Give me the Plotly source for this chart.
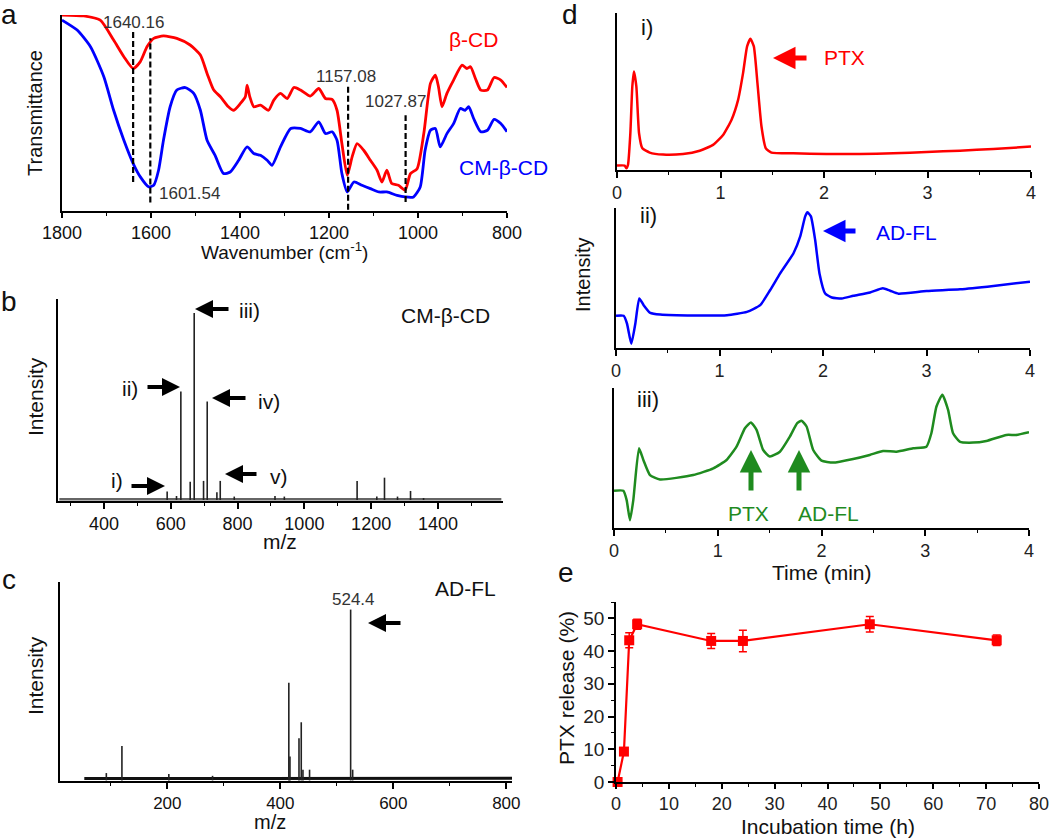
import plotly.graph_objects as go

W, H = 1050, 838

# ---------------- data ----------------
# (a) FTIR, transmittance in arbitrary units
ftir_wn_bcd = [1800, 1751, 1714, 1684, 1661, 1640, 1624, 1609, 1594, 1572, 1542, 1512, 1489, 1474, 1459,
               1444, 1426, 1414, 1399, 1388, 1384, 1378, 1369, 1354, 1336, 1324, 1309, 1294, 1279, 1264,
               1242, 1223, 1208, 1193, 1182, 1171, 1159, 1148, 1137, 1122, 1107, 1092, 1081, 1070, 1059,
               1044, 1029, 1017, 1002, 987, 972, 961, 954, 946, 935, 920, 901, 890, 882, 871, 859, 844,
               829, 814, 800]
ftir_t_bcd = [100.0, 99.5, 97.4, 87.2, 78.7, 72.7, 76.2, 83.8, 88.1, 89.3, 88.1, 84.7, 79.6, 70.2, 61.7,
              58.3, 53.2, 51.4, 54.9, 58.3, 64.2, 58.3, 53.2, 54.0, 51.4, 56.6, 60.0, 57.4, 63.0, 61.7,
              58.6, 62.5, 57.4, 56.9, 51.4, 34.4, 18.2, 27.6, 34.4, 31.0, 25.9, 20.8, 14.8, 20.8, 14.0,
              13.1, 10.6, 19.1, 21.6, 39.5, 65.1, 69.3, 63.4, 53.2, 60.0, 66.8, 74.4, 72.7, 73.6, 67.6,
              61.7, 61.7, 68.1, 66.8, 63.0]
ftir_wn_cm = [1800, 1766, 1736, 1706, 1684, 1661, 1640, 1624, 1605, 1594, 1583, 1572, 1557, 1542, 1523,
              1504, 1489, 1474, 1456, 1437, 1422, 1403, 1384, 1369, 1354, 1339, 1328, 1309, 1286, 1264,
              1242, 1223, 1208, 1193, 1182, 1171, 1159, 1144, 1126, 1107, 1088, 1070, 1047, 1029, 1010,
              995, 984, 972, 961, 950, 935, 920, 905, 894, 886, 875, 859, 844, 829, 814, 800]
ftir_t_cm = [97.4, 92.3, 83.8, 68.5, 51.4, 36.1, 24.2, 17.4, 12.3, 13.1, 20.8, 36.1, 53.2, 61.7, 63.0,
             60.0, 51.4, 36.1, 28.4, 19.1, 19.9, 25.9, 32.7, 29.3, 28.4, 25.9, 23.3, 32.7, 42.1, 42.1,
             40.4, 45.5, 39.5, 40.4, 36.1, 19.1, 9.7, 14.8, 13.1, 11.4, 9.7, 9.7, 8.0, 7.2, 7.2,
             12.3, 31.0, 41.2, 42.1, 32.7, 39.5, 44.6, 52.3, 51.4, 53.2, 47.2, 40.4, 41.2, 46.7, 44.6, 40.4]
mark_wn = [1640.16, 1601.54, 1157.08, 1027.87]
mark_top = [92.3, 88.1, 63.7, 48.9]
mark_bot = [14.8, 4.3, 0.7, 4.6]
mark_labels = ["1640.16", "1601.54", "1157.08", "1027.87"]

# (b) MS of CM-beta-CD
ms_cm_mz = [589, 617, 630, 658, 670, 698, 709, 738, 748, 790, 912, 940, 1158, 1217, 1240, 1279, 1318, 1357]
ms_cm_int = [4.2, 2.0, 54.0, 9.1, 93.0, 9.5, 49.0, 3.8, 9.5, 1.7, 2.0, 1.7, 9.5, 1.7, 11.1, 1.7, 4.5, 1.0]
ms_cm_base_mz = [266, 1590]
ms_cm_base_int = [0.4, 0.4]

# (c) MS of AD-FL
ms_ad_mz = [92, 119.6, 202.6, 280, 415, 417, 433, 437, 440, 451.7, 524.4, 528]
ms_ad_int = [3.7, 17.4, 3.2, 2.3, 49.2, 12.1, 21.3, 29.3, 5.4, 5.4, 86.1, 5.4]
ms_ad_base_mz = [53, 810]
ms_ad_base_int = [0.9, 1.1]

# (d) HPLC traces
hplc_ptx_t = [0.0, 0.074, 0.090, 0.106, 0.129, 0.148, 0.164, 0.187, 0.213, 0.245, 0.316, 0.445, 0.638,
              0.799, 0.928, 1.025, 1.106, 1.170, 1.218, 1.257, 1.289, 1.322, 1.357, 1.396, 1.438, 1.492,
              1.702, 2.024, 2.347, 2.669, 2.991, 3.313, 3.636, 4.0]
hplc_ptx_i = [2.8, 2.8, 1.1, 3.2, 23.4, 53.2, 62.8, 53.2, 23.4, 13.8, 11.1, 9.8, 10.2,
              12.3, 16.0, 22.3, 31.9, 44.7, 61.7, 78.7, 83.6, 78.7, 55.3, 27.7, 13.8, 11.1,
              10.6, 10.2, 10.2, 10.6, 11.5, 12.3, 13.4, 14.9]
hplc_ad_t = [0.0, 0.074, 0.106, 0.148, 0.187, 0.225, 0.267, 0.331, 0.428, 0.750, 1.072, 1.265, 1.393,
             1.490, 1.586, 1.715, 1.780, 1.828, 1.850, 1.883, 1.924, 1.966, 2.021, 2.085, 2.182, 2.294,
             2.455, 2.578, 2.648, 2.729, 3.002, 3.324, 3.646, 4.0]
hplc_ad_i = [23.0, 23.0, 17.5, 3.1, 17.5, 35.4, 30.6, 25.1, 23.9, 23.2, 23.4, 25.8, 30.6,
             41.4, 53.3, 67.7, 79.7, 94.0, 96.9, 94.0, 77.3, 53.3, 39.0, 36.1, 35.4, 37.3,
             39.7, 42.6, 40.9, 38.8, 40.7, 41.9, 44.3, 47.4]
hplc_mix_t = [0.0, 0.090, 0.122, 0.154, 0.186, 0.241, 0.283, 0.347, 0.443, 0.764, 0.957, 1.085, 1.181,
              1.262, 1.319, 1.374, 1.438, 1.502, 1.599, 1.695, 1.766, 1.807, 1.856, 1.920, 2.0, 2.112,
              2.305, 2.465, 2.594, 2.722, 2.883, 3.011, 3.059, 3.108, 3.165, 3.220, 3.268, 3.332, 3.461,
              3.589, 3.782, 3.878, 4.0]
hplc_mix_i = [26.6, 26.6, 19.9, 5.5, 19.9, 56.9, 48.6, 37.8, 34.7, 37.8, 42.6, 48.6, 58.1,
              71.3, 75.4, 70.1, 55.7, 51.0, 54.5, 65.3, 74.9, 76.6, 72.5, 55.7, 48.1, 46.7,
              49.3, 52.2, 55.0, 54.5, 56.9, 58.1, 67.7, 86.8, 95.2, 84.4, 67.7, 61.7, 61.0,
              62.2, 66.5, 66.5, 68.4]

# (e) PTX release
rel_time = [0.3, 1.5, 2.5, 4, 18, 24, 48, 72]
rel_pct = [0.0, 9.3, 43.3, 48.2, 43.1, 43.1, 48.2, 43.3]
rel_err = [0.0, 0.6, 2.3, 1.5, 2.3, 3.3, 2.4, 1.6]

# ---------------- helpers ----------------
FONT = "Arial, Liberation Sans, sans-serif"
RED, BLUE, GREEN = "#ff0000", "#0000ff", "#1f8b1f"


def xd(x0, x1):
    return [x0 / W, x1 / W]


def yd(top, bot):
    return [1 - bot / H, 1 - top / H]


def P(x, y):
    return x / W, 1 - y / H


def sticks(xs, ys, base=0.0):
    xx, yy = [], []
    for a, b in zip(xs, ys):
        xx += [a, a, None]
        yy += [base, b, None]
    return xx, yy


def xaxis(dom, anchor, rng, dtick, mdtick, size=18, color="#111", ticklen=6):
    return dict(domain=dom, anchor=anchor, range=rng, showline=True, linecolor="black", linewidth=1.5,
                ticks="outside", ticklen=ticklen, tickwidth=1.5, tickcolor="black", dtick=dtick, tick0=0,
                minor=dict(dtick=mdtick, ticks="outside", ticklen=3, tickwidth=1.2, tickcolor="black"),
                showgrid=False, zeroline=False, automargin=False,
                tickfont=dict(size=size, color=color, family=FONT))


def yaxis(dom, anchor, rng):
    return dict(domain=dom, anchor=anchor, range=rng, showline=True, linecolor="black", linewidth=1.5,
                ticks="", showticklabels=False, showgrid=False, zeroline=False, automargin=False)


fig = go.Figure()

# (a)
fig.add_trace(go.Scatter(x=ftir_wn_bcd, y=ftir_t_bcd, mode="lines", line=dict(color=RED, width=2.8, shape="spline", smoothing=0.6),
                         xaxis="x", yaxis="y", showlegend=False))
fig.add_trace(go.Scatter(x=ftir_wn_cm, y=ftir_t_cm, mode="lines", line=dict(color=BLUE, width=2.8, shape="spline", smoothing=0.6),
                         xaxis="x", yaxis="y", showlegend=False))
mx, my = [], []
for w, t, b in zip(mark_wn, mark_top, mark_bot):
    mx += [w, w, None]
    my += [b, t, None]
fig.add_trace(go.Scatter(x=mx, y=my, mode="lines", line=dict(color="black", width=2.2, dash="6px,3px"),
                         xaxis="x", yaxis="y", showlegend=False))

# (b)
fig.add_trace(go.Scatter(x=ms_cm_base_mz, y=ms_cm_base_int, mode="lines", line=dict(color="#666", width=2.5),
                         xaxis="x2", yaxis="y2", showlegend=False))
sx, sy = sticks(ms_cm_mz, ms_cm_int)
fig.add_trace(go.Scatter(x=sx, y=sy, mode="lines", line=dict(color="#222", width=1.6),
                         xaxis="x2", yaxis="y2", showlegend=False))

# (c)
fig.add_trace(go.Scatter(x=ms_ad_base_mz, y=ms_ad_base_int, mode="lines", line=dict(color="#111", width=3),
                         xaxis="x3", yaxis="y3", showlegend=False))
sx, sy = sticks(ms_ad_mz, ms_ad_int)
fig.add_trace(go.Scatter(x=sx, y=sy, mode="lines", line=dict(color="#222", width=1.6),
                         xaxis="x3", yaxis="y3", showlegend=False))

# (d)
fig.add_trace(go.Scatter(x=hplc_ptx_t, y=hplc_ptx_i, mode="lines", line=dict(color=RED, width=2.5, shape="spline", smoothing=0.5),
                         xaxis="x4", yaxis="y4", showlegend=False))
fig.add_trace(go.Scatter(x=hplc_ad_t, y=hplc_ad_i, mode="lines", line=dict(color=BLUE, width=2.5, shape="spline", smoothing=0.5),
                         xaxis="x5", yaxis="y5", showlegend=False))
fig.add_trace(go.Scatter(x=hplc_mix_t, y=hplc_mix_i, mode="lines", line=dict(color=GREEN, width=2.5, shape="spline", smoothing=0.5),
                         xaxis="x6", yaxis="y6", showlegend=False))

# (e)
fig.add_trace(go.Scatter(x=rel_time, y=rel_pct, mode="lines+markers",
                         line=dict(color=RED, width=2.2),
                         marker=dict(symbol="square", size=10, color=RED),
                         error_y=dict(type="data", array=rel_err, color=RED, thickness=1.5, width=4),
                         cliponaxis=False, xaxis="x7", yaxis="y7", showlegend=False))

layout = dict(width=W, height=H, autosize=False,
              margin=dict(l=0, r=0, t=0, b=0, pad=0, autoexpand=False),
              paper_bgcolor="white", plot_bgcolor="white", showlegend=False,
              font=dict(family=FONT, color="#111"))

layout["xaxis"] = xaxis(xd(62, 507), "y", [1800, 800], 200, 100, size=18, ticklen=5)
layout["yaxis"] = yaxis(yd(15, 211), "x", [0, 100])
layout["xaxis2"] = xaxis(xd(58, 503), "y2", [262, 1595], 200, 100, size=18)
layout["yaxis2"] = yaxis(yd(299, 501), "x2", [-0.5, 100])
layout["xaxis3"] = xaxis(xd(60, 512), "y3", [10, 810], 200, 100, size=17)
layout["yaxis3"] = yaxis(yd(582, 781), "x3", [-0.3, 100])
layout["xaxis4"] = xaxis(xd(617, 1031), "y4", [0, 4], 1, 0.5, size=18, color="#222")
layout["yaxis4"] = yaxis(yd(13, 170), "x4", [0, 100])
layout["xaxis5"] = xaxis(xd(616, 1030), "y5", [0, 4], 1, 0.5, size=18, color="#222")
layout["yaxis5"] = yaxis(yd(208, 348), "x5", [0, 100])
layout["xaxis6"] = xaxis(xd(614, 1029), "y6", [0, 4], 1, 0.5, size=18, color="#222")
layout["yaxis6"] = yaxis(yd(388, 528), "x6", [0, 100])
layout["xaxis7"] = xaxis(xd(616, 1039), "y7", [0, 80], 10, 5, size=18, color="#222", ticklen=5)
ye = yaxis(yd(602, 782), "x7", [0, 55])
ye.update(ticks="outside", ticklen=6, tickwidth=1.5, tickcolor="black", showticklabels=True, dtick=10, tick0=0,
          minor=dict(dtick=5, ticks="outside", ticklen=3, tickwidth=1.2, tickcolor="black"),
          tickfont=dict(size=19, color="#222", family=FONT))
layout["yaxis7"] = ye

ann = []


def text(x, y, s, size=18, color="#111", angle=0, xanchor="center"):
    px, py = P(x, y)
    ann.append(dict(x=px, y=py, xref="paper", yref="paper", text=s, showarrow=False, textangle=angle,
                    xanchor=xanchor, yanchor="middle", font=dict(size=size, color=color, family=FONT)))


def arrow(x_tip, y_tip, x_tail, y_tail, color="black", width=4):
    px, py = P(x_tip, y_tip)
    ann.append(dict(x=px, y=py, xref="paper", yref="paper", text="", showarrow=True,
                    ax=x_tail - x_tip, ay=y_tail - y_tip, arrowhead=2, arrowsize=0.9,
                    arrowwidth=width, arrowcolor=color, standoff=0, startstandoff=0))


# panel letters
text(9, 15, "a", 28)
text(9, 301, "b", 28)
text(9, 579, "c", 28)
text(570, 14, "d", 28)
text(566, 572, "e", 28)

# (a) texts
text(35, 113, "Transmittance", 20, angle=-90)
text(284, 251, "Wavenumber (cm<sup>-1</sup>)", 19)
text(133, 23, mark_labels[0], 17, "#333")
text(189, 193, mark_labels[1], 17, "#333")
text(346, 77, mark_labels[2], 17, "#333")
text(395, 102, mark_labels[3], 17, "#333")
text(474, 40, "β-CD", 21, RED)
text(503, 168, "CM-β-CD", 21, BLUE)

# (b) texts
text(35, 397, "Intensity", 21, angle=-90)
text(280, 541, "m/z", 21)
text(445, 315, "CM-β-CD", 21)
text(117, 480, "i)", 21)
text(130, 388, "ii)", 21)
text(249, 310, "iii)", 21)
text(269, 401, "iv)", 21)
text(279, 476, "v)", 21)
arrow(165, 486, 130, 486)
arrow(180, 387, 146, 387)
arrow(195, 309, 230, 309)
arrow(212, 398, 247, 398)
arrow(225, 474, 258, 474)

# (c) texts
text(35, 676, "Intensity", 21, angle=-90)
text(270, 822, "m/z", 20)
text(465, 588, "AD-FL", 21)
text(353, 599, "524.4", 17, "#333")
arrow(368, 623, 402, 623)

# (d) texts
text(583, 275, "Intensity", 20, angle=-90)
text(822, 572, "Time (min)", 21)
text(647, 27, "i)", 22)
text(648, 215, "ii)", 22)
text(648, 400, "iii)", 22)
text(844, 58, "PTX", 21, RED)
arrow(773, 58, 808, 58, RED, 5)
text(906, 233, "AD-FL", 21, BLUE)
arrow(823, 231, 857, 231, BLUE, 5)
text(748, 513, "PTX", 21, GREEN)
text(828, 513, "AD-FL", 21, GREEN)
arrow(751, 450, 751, 492, GREEN, 5)
arrow(799, 450, 799, 492, GREEN, 5)

# (e) texts
text(566, 688, "PTX release (%)", 21, angle=-90)
text(828, 826, "Incubation time (h)", 21)

layout["annotations"] = ann
fig.update_layout(**layout)
fig.write_html("out.html", config={"displayModeBar": False},
               post_script="document.body.style.margin='0px';document.body.style.padding='0px';")
